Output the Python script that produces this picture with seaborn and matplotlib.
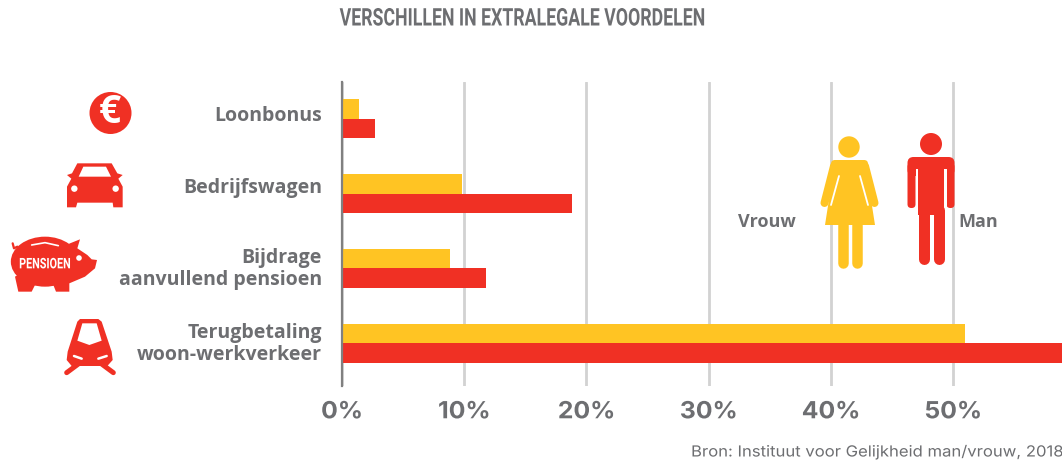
import matplotlib
matplotlib.use("Agg")
import pandas as pd
import seaborn as sns
import matplotlib.pyplot as plt
from matplotlib.patches import Circle, Polygon, FancyBboxPatch, Ellipse
from matplotlib.patheffects import AbstractPathEffect
from matplotlib.transforms import Affine2D

# Data
categorieen = ["Loonbonus", "Bedrijfswagen", "Bijdrage\naanvullend pensioen",
               "Terugbetaling\nwoon-werkverkeer"]
vrouw = [1.4, 9.8, 8.8, 51.0]
man = [2.7, 18.8, 11.8, 60.0]
ticks = [0, 10, 20, 30, 40, 50]
label_y = [116, 188, 269, 344]

GEEL = "#FFC423"
ROOD = "#F03024"
GRIJS = "#6D6E71"


class Breedte(AbstractPathEffect):
    # tekst horizontaal smaller of breder maken rond het midden
    def __init__(self, factor):
        super().__init__()
        self.factor = factor

    def draw_path(self, renderer, gc, tpath, affine, rgbFace=None):
        box = tpath.get_extents(affine)
        cx = (box.x0 + box.x1) / 2
        extra = Affine2D().translate(-cx, 0).scale(self.factor, 1).translate(cx, 0)
        renderer.draw_path(gc, tpath, affine + extra, rgbFace)


df = pd.DataFrame({"categorie": categorieen, "Vrouw": vrouw, "Man": man})
df = df.melt(id_vars="categorie", var_name="geslacht", value_name="pct")

sns.set_style("white")
plt.rcParams["font.family"] = ["Open Sans", "DejaVu Sans"]

fig = plt.figure(figsize=(10.62, 4.61), dpi=100)
W, H = 1062, 461
ax = fig.add_axes([342 / W, 1 - 386 / H, 720 / W, 304 / H])

sns.barplot(data=df, y="categorie", x="pct", hue="geslacht", orient="h",
            palette={"Vrouw": GEEL, "Man": ROOD}, width=0.52, gap=0,
            saturation=1, legend=False, linewidth=0, edgecolor="none", ax=ax)
ax.set_xlim(0, 58.9)
ax.set_ylim(3.567, -0.487)
ax.set_xlabel("")
ax.set_ylabel("")
ax.set_xticks(ticks)
ax.set_xticklabels([f"{t}%" for t in ticks], family="Inter", fontsize=17,
                   fontweight="bold", color=GRIJS)
for lab in ax.get_xticklabels():
    lab.set_path_effects([Breedte(1.05)])
ax.tick_params(axis="x", length=0, pad=11)
ax.set_yticks([])
ax.grid(axis="x", color="#D2D2D2", lw=2)
ax.set_axisbelow(True)
for s in ["top", "right", "bottom"]:
    ax.spines[s].set_visible(False)
ax.spines["left"].set_color("#808080")
ax.spines["left"].set_linewidth(1.6)

# laag voor pictogrammen, in pixels
ov = fig.add_axes([0, 0, 1, 1], zorder=5)
ov.set_xlim(0, W)
ov.set_ylim(H, 0)
ov.axis("off")
ov.patch.set_alpha(0)

for cat, y in zip(categorieen, label_y):
    ov.text(322, y, cat, ha="right", va="center", multialignment="right", fontsize=14,
            fontweight="bold", color=GRIJS, linespacing=1.12)


def staaf(x0, y0, x1, y1, kleur, lw):
    ov.plot([x0, x1], [y0, y1], color=kleur, lw=lw * 0.72,
            solid_capstyle="round")


def blok(x0, y0, x1, y1, kleur, r=3):
    ov.add_patch(FancyBboxPatch((x0 + r, y0 + r), x1 - x0 - 2 * r, y1 - y0 - 2 * r,
                                boxstyle=f"round,pad={r}", fc=kleur, ec="none"))


def zoomp(punten):
    return [(x / 3, y / 3 + 80) for x, y in punten]


# vrouw
ov.add_patch(Circle((849, 147), 10.7, fc=GEEL, ec="none"))
ov.add_patch(Polygon([(835, 161), (865, 161), (875, 225), (825, 225)], fc=GEEL, ec="none"))
blok(831, 160, 868, 172, GEEL, 4)
staaf(834, 166, 824.5, 203, GEEL, 8)
staaf(865, 166, 874.5, 203, GEEL, 8)
ov.plot([839, 831], [176, 205], color="white", lw=1.3)
ov.plot([860, 868], [176, 205], color="white", lw=1.3)
staaf(843, 225, 843, 263, GEEL, 10.5)
staaf(856.5, 225, 856.5, 263, GEEL, 10.5)

# man
ov.add_patch(Circle((931, 144), 11, fc=ROOD, ec="none"))
blok(907.5, 157, 954.5, 176, ROOD, 6)
ov.fill_between([918, 944], 165, 215, color=ROOD, lw=0)
blok(907.5, 163, 915.5, 208, ROOD, 3.8)
blok(946.5, 163, 954.5, 208, ROOD, 3.8)
ov.fill_between([915.5, 918.3], 169, 210, color="white", lw=0)
ov.fill_between([943.7, 946.5], 169, 210, color="white", lw=0)
staaf(923.5, 210, 923.5, 259, ROOD, 11)
staaf(938.5, 210, 938.5, 259, ROOD, 11)

ov.text(796, 222, "Vrouw", ha="right", va="center", fontsize=13, fontweight="bold", color=GRIJS)
ov.text(958, 222, "Man", ha="left", va="center", fontsize=13, fontweight="bold", color=GRIJS)

# euro
ov.add_patch(Circle((110.5, 113), 21, fc=ROOD, ec="none"))
ov.text(110, 112, "€", ha="center", va="center", color="white", fontsize=28,
        fontweight="bold")

# auto
auto = [(232, 250), (335, 250), (352, 280), (368, 285), (355, 296), (368, 320), (368, 382),
        (340, 382), (338, 368), (232, 368), (228, 382), (201, 382), (201, 320), (214, 296),
        (201, 285), (216, 280)]
ov.add_patch(Polygon(zoomp(auto), fc=ROOD, ec="none", joinstyle="round"))
ov.add_patch(Polygon(zoomp([(250, 260), (318, 260), (333, 290), (236, 290)]), fc="white", ec="none"))
ov.add_patch(Circle((223 / 3, 326 / 3 + 80), 3.2, fc="white", ec="none"))
ov.add_patch(Circle((347 / 3, 326 / 3 + 80), 3.2, fc="white", ec="none"))

# spaarvarken
ov.add_patch(Ellipse((135 / 3, 545 / 3 + 80), 205 / 3, 150 / 3, fc=ROOD, ec="none"))
varken = [(200, 495), (210, 490), (240, 478), (232, 505), (262, 525), (275, 538), (291, 540),
          (285, 565), (255, 590), (208, 610), (208, 635), (168, 635), (160, 615), (105, 615),
          (95, 635), (55, 635), (45, 590)]
ov.add_patch(Polygon(zoomp(varken), fc=ROOD, ec="none"))
ov.add_patch(Circle((237 / 3, 534 / 3 + 80), 2.8, fc="white", ec="none"))
ov.plot(*zip(*zoomp([(95, 495), (135, 488), (175, 497)])), color="white", lw=1.2)
ov.plot(*zip(*zoomp([(38, 490), (42, 505), (52, 500)])), color=ROOD, lw=1.6)
ov.text(135 / 3, 553 / 3 + 80, "PENSIOEN", ha="center", va="center", color="white",
        fontsize=10.5, fontweight="bold", family="Roboto", path_effects=[Breedte(0.74)])

# trein
trein = [(240, 717), (295, 717), (305, 725), (335, 815), (338, 840), (322, 858), (215, 858),
         (200, 840), (203, 815), (232, 725)]
ov.add_patch(Polygon(zoomp(trein), fc=ROOD, ec="none"))
ov.add_patch(Polygon(zoomp([(247, 730), (290, 730), (305, 782), (268, 795), (232, 782)]),
                     fc="white", ec="none"))
ov.plot(*zip(*zoomp([(222, 828), (245, 836)])), color="white", lw=1.8)
ov.plot(*zip(*zoomp([(295, 836), (320, 828)])), color="white", lw=1.8)
staaf(*zoomp([(200, 878)])[0], *zoomp([(235, 852)])[0], ROOD, 5)
staaf(*zoomp([(340, 878)])[0], *zoomp([(305, 852)])[0], ROOD, 5)

# titel en bron
fig.text(522 / W, 1 - 19 / H, "VERSCHILLEN IN EXTRALEGALE VOORDELEN", ha="center", va="center",
         family="Roboto", fontsize=17.5, fontweight="bold", color=GRIJS,
         path_effects=[Breedte(0.73)])
fig.text(876.5 / W, 1 - 452 / H, "Bron: Instituut voor Gelijkheid man/vrouw, 2018", ha="center",
         va="center", family="Inter", fontsize=11, color=GRIJS, path_effects=[Breedte(1.09)])

fig.savefig("out.png", dpi=100)
